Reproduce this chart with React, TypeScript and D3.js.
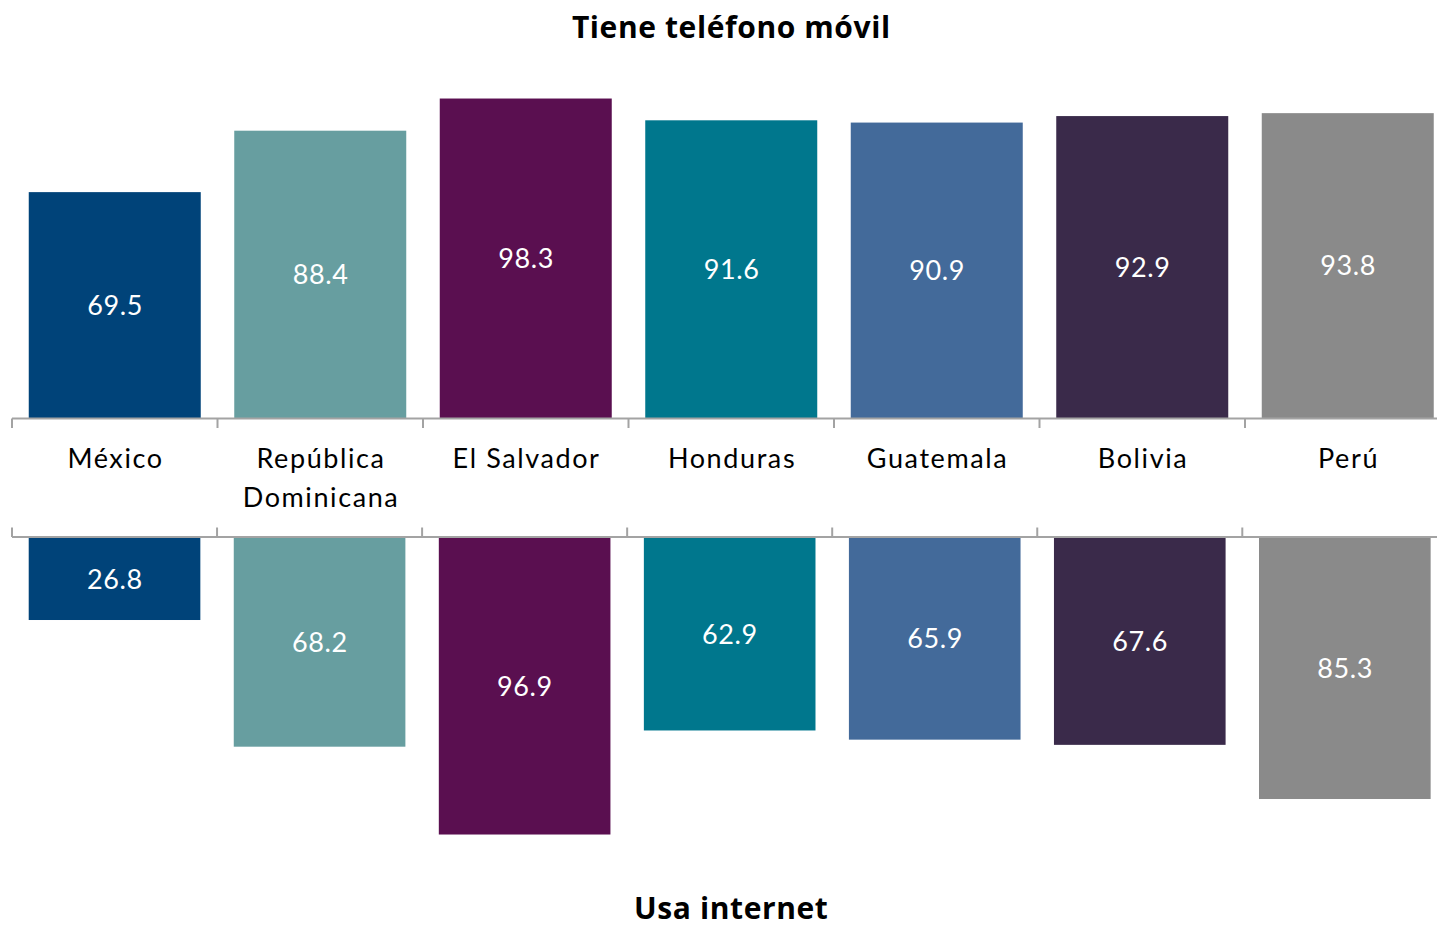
import React from "react";
import * as d3 from "d3";

const categories = ["México", "República Dominicana", "El Salvador", "Honduras", "Guatemala", "Bolivia", "Perú"];
const movil = [69.5, 88.4, 98.3, 91.6, 90.9, 92.9, 93.8];
const internet = [26.8, 68.2, 96.9, 62.9, 65.9, 67.6, 85.3];
const colors = ["#004379", "#679EA0", "#5A0F50", "#00778D", "#436A9A", "#3A2A4A", "#8A8A8A"];
const titleTop = "Tiene teléfono móvil";
const titleBottom = "Usa internet";

const W = 1437;
const H = 926;
const FONT = "Lato, 'Open Sans', sans-serif";
const TITLE_FONT = "'Open Sans', Lato, sans-serif";

export default function App() {
  const n = categories.length;
  const pad = 0.163;
  const xTop = d3.scaleBand<string>().domain(categories).range([12, 12 + n * 205.5]).paddingInner(pad).paddingOuter(pad / 2);
  const xBot = d3.scaleBand<string>().domain(categories).range([12, 12 + n * 205.05]).paddingInner(pad).paddingOuter(pad / 2);
  const topBase = 418;
  const botBase = 538;
  const yTop = d3.scaleLinear().domain([0, 100]).range([topBase, topBase - 325]);
  const yBot = d3.scaleLinear().domain([0, 100]).range([botBase, botBase + 306]);

  const tickPos = (x: d3.ScaleBand<string>) => {
    const step = x.step();
    const arr = categories.map((c) => (x(c) as number) - (step * pad) / 2);
    arr.push(arr[arr.length - 1] + step);
    return arr;
  };
  const topTicks = tickPos(xTop);
  const botTicks = tickPos(xBot);
  const axisColor = "#A3A3A3";
  const catSpacing = 1.6;
  const valSpacing = 0.6;
  const titleSpacing = 0.6;

  return (
    <div style={{ position: "absolute", left: 0, top: 0 }}>
      <svg width={W} height={H} style={{ display: "block", background: "#fff" }} fontFamily={FONT}>
        <text x={731 + titleSpacing / 2} y={38} textAnchor="middle" fontWeight={700} fontSize={30} letterSpacing={titleSpacing} fontFamily={TITLE_FONT} fill="#000">{titleTop}</text>
        <text x={731 + titleSpacing / 2} y={918.5} textAnchor="middle" fontWeight={700} fontSize={30} letterSpacing={titleSpacing} fontFamily={TITLE_FONT} fill="#000">{titleBottom}</text>

        {categories.map((c, i) => (
          <g key={"t" + c}>
            <rect x={xTop(c)} width={xTop.bandwidth()} y={yTop(movil[i])} height={topBase - yTop(movil[i])} fill={colors[i]} />
            <text x={(xTop(c) as number) + xTop.bandwidth() / 2 + valSpacing / 2} y={(yTop(movil[i]) + topBase) / 2 + 9.5} textAnchor="middle" fontSize={27} letterSpacing={valSpacing} fill="#fff">
              {movil[i].toFixed(1)}
            </text>
          </g>
        ))}
        {categories.map((c, i) => (
          <g key={"b" + c}>
            <rect x={xBot(c)} width={xBot.bandwidth()} y={botBase} height={yBot(internet[i]) - botBase} fill={colors[i]} />
            <text x={(xBot(c) as number) + xBot.bandwidth() / 2 + valSpacing / 2} y={(yBot(internet[i]) + botBase) / 2 + 9.5} textAnchor="middle" fontSize={27} letterSpacing={valSpacing} fill="#fff">
              {internet[i].toFixed(1)}
            </text>
          </g>
        ))}

        <line x1={12} x2={W} y1={418.5} y2={418.5} stroke={axisColor} strokeWidth={2} />
        {topTicks.map((t, i) => (
          <line key={"tt" + i} x1={t} x2={t} y1={418.5} y2={428} stroke={axisColor} strokeWidth={2} />
        ))}
        <line x1={12} x2={W} y1={537} y2={537} stroke={axisColor} strokeWidth={2} />
        {botTicks.map((t, i) => (
          <line key={"bt" + i} x1={t} x2={t} y1={527.5} y2={537} stroke={axisColor} strokeWidth={2} />
        ))}

        {categories.map((c) => {
          const cx = (xTop(c) as number) + xTop.bandwidth() / 2 + catSpacing / 2;
          const lines = c === "República Dominicana" ? ["República", "Dominicana"] : [c];
          return (
            <text key={"l" + c} x={cx} y={468} textAnchor="middle" fontSize={27} letterSpacing={catSpacing} fill="#000">
              {lines.map((l, j) => (
                <tspan key={j} x={cx} dy={j === 0 ? 0 : 38.5}>{l}</tspan>
              ))}
            </text>
          );
        })}
      </svg>
    </div>
  );
}
